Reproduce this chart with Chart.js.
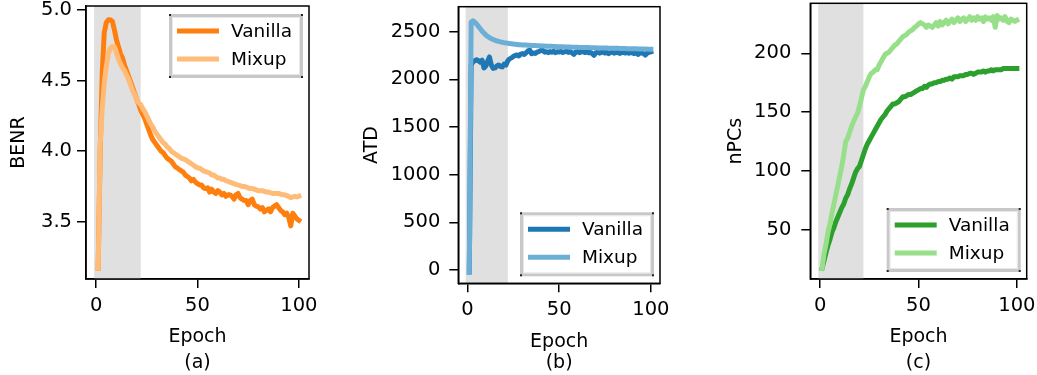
<!DOCTYPE html>
<html>
<head>
<meta charset="utf-8">
<script src="https://cdn.jsdelivr.net/npm/chart.js@4.4.1/dist/chart.umd.min.js"></script>
<style>
  html, body { margin: 0; padding: 0; background: #fff; }
  #wrap { position: relative; width: 1037px; height: 375px; }
  canvas { position: absolute; top: 0; }
</style>
</head>
<body>
<div id="wrap">
  <canvas id="benrChart" width="345" height="375" style="left:0px"></canvas>
  <canvas id="atdChart" width="345" height="375" style="left:345px"></canvas>
  <canvas id="npcsChart" width="347" height="375" style="left:690px"></canvas>
</div>
<script>
// Epochs on the x axis
const epochs = [1, 2, 3, 4, 5, 6, 7, 8, 9, 10, 11, 12, 13, 14, 15, 16, 17, 18, 19, 20,
  21, 22, 23, 24, 25, 26, 27, 28, 29, 30, 31, 32, 33, 34, 35, 36, 37, 38, 39, 40,
  41, 42, 43, 44, 45, 46, 47, 48, 49, 50, 51, 52, 53, 54, 55, 56, 57, 58, 59, 60,
  61, 62, 63, 64, 65, 66, 67, 68, 69, 70, 71, 72, 73, 74, 75, 76, 77, 78, 79, 80,
  81, 82, 83, 84, 85, 86, 87, 88, 89, 90, 91, 92, 93, 94, 95, 96, 97, 98, 99, 100];

const seriesNames = ['Vanilla', 'Mixup'];

// (a) BENR
const benrVanilla = [3.17, 4.00, 4.55, 4.84, 4.91, 4.93, 4.93, 4.92, 4.86, 4.79,
  4.74, 4.69, 4.66, 4.61, 4.57, 4.53, 4.49, 4.45, 4.41, 4.37,
  4.33, 4.29, 4.26, 4.23, 4.19, 4.15, 4.11, 4.08, 4.06, 4.04,
  4.02, 4.00, 3.99, 3.97, 3.95, 3.94, 3.93, 3.91, 3.89, 3.88,
  3.87, 3.86, 3.85, 3.83, 3.82, 3.81, 3.79, 3.80, 3.78, 3.77,
  3.76, 3.76, 3.74, 3.735, 3.74, 3.71, 3.73, 3.71, 3.70, 3.72,
  3.71, 3.69, 3.70, 3.68, 3.69, 3.69, 3.68, 3.66, 3.69, 3.70,
  3.67, 3.66, 3.65, 3.65, 3.62, 3.65, 3.66, 3.62, 3.61, 3.605,
  3.59, 3.60, 3.57, 3.58, 3.59, 3.57, 3.60, 3.61, 3.62, 3.60,
  3.58, 3.57, 3.55, 3.56, 3.53, 3.47, 3.56, 3.54, 3.52, 3.51];
const benrMixup = [3.17, 4.05, 4.30, 4.48, 4.60, 4.69, 4.73, 4.74, 4.74, 4.70,
  4.65, 4.62, 4.59, 4.57, 4.54, 4.51, 4.47, 4.43, 4.40, 4.37,
  4.34, 4.33, 4.30, 4.28, 4.25, 4.22, 4.19, 4.17, 4.14, 4.12,
  4.10, 4.08, 4.06, 4.05, 4.03, 4.02, 4.00, 3.99, 3.98, 3.97,
  3.96, 3.95, 3.945, 3.94, 3.93, 3.92, 3.91, 3.90, 3.89, 3.88,
  3.88, 3.87, 3.86, 3.855, 3.85, 3.845, 3.83, 3.83, 3.82, 3.81,
  3.81, 3.80, 3.80, 3.79, 3.785, 3.78, 3.775, 3.77, 3.765, 3.76,
  3.755, 3.75, 3.75, 3.745, 3.74, 3.735, 3.735, 3.73, 3.725, 3.72,
  3.72, 3.72, 3.715, 3.71, 3.71, 3.705, 3.70, 3.70, 3.70, 3.70,
  3.695, 3.69, 3.69, 3.685, 3.68, 3.67, 3.675, 3.68, 3.675, 3.68];

// (b) ATD
const atdVanilla = [-20, 2150, 2185, 2195, 2205, 2195, 2180, 2200, 2120, 2140,
  2190, 2235, 2150, 2115, 2120, 2140, 2150, 2135, 2130, 2160,
  2150, 2195, 2215, 2225, 2240, 2250, 2255, 2245, 2265, 2270,
  2262, 2278, 2298, 2306, 2268, 2276, 2272, 2285, 2292, 2302,
  2306, 2285, 2290, 2280, 2292, 2285, 2294, 2280, 2290, 2286,
  2293, 2282, 2288, 2295, 2283, 2290, 2278, 2262, 2285, 2290,
  2280, 2288, 2292, 2282, 2287, 2279, 2284, 2272, 2252, 2278,
  2285, 2275, 2282, 2288, 2276, 2283, 2270, 2281, 2287, 2274,
  2280, 2284, 2272, 2279, 2285, 2276, 2281, 2274, 2283, 2278,
  2270, 2279, 2262, 2276, 2281, 2270, 2255, 2275, 2282, 2288];
const atdMixup = [-20, 2600, 2615, 2600, 2578, 2555, 2530, 2505, 2485, 2465,
  2450, 2437, 2427, 2418, 2410, 2404, 2398, 2393, 2389, 2385,
  2382, 2378, 2375, 2373, 2370, 2368, 2366, 2364, 2363, 2361,
  2360, 2359, 2358, 2357, 2356, 2355, 2354, 2353, 2352, 2351,
  2350, 2349, 2348, 2347, 2346, 2346, 2345, 2344, 2343, 2342,
  2341, 2341, 2340, 2339, 2339, 2338, 2337, 2337, 2336, 2336,
  2335, 2335, 2334, 2334, 2333, 2333, 2332, 2332, 2331, 2331,
  2330, 2330, 2329, 2329, 2328, 2328, 2327, 2327, 2326, 2326,
  2325, 2325, 2324, 2324, 2323, 2323, 2322, 2322, 2321, 2321,
  2320, 2320, 2319, 2319, 2318, 2318, 2317, 2317, 2316, 2316];

// (c) nPCs
const npcsVanilla = [17.5, 24, 31, 37, 42, 48, 52, 57, 61, 65,
  69, 72, 77, 80, 85, 89, 94, 99, 102, 104,
  109, 114, 119, 123, 126, 129, 132, 135, 138, 141,
  144, 146, 148, 151, 153, 155, 157, 157, 158, 159,
  161, 163, 163, 164, 165, 165, 166, 167, 168, 169,
  170, 170, 172, 171, 173, 174, 174, 175, 175, 176,
  176, 177, 177, 178, 178, 179, 178, 180, 180, 180,
  181, 181, 181, 182, 182, 183, 183, 182, 183, 184,
  184, 184, 185, 184, 185, 185, 186, 185, 186, 186,
  186, 186, 187, 187, 187, 187, 187, 187, 187, 187];
const npcsMixup = [17.5, 30, 38, 48, 55, 64, 72, 80, 88, 96,
  104, 114, 125, 128, 133, 138, 142, 146, 149, 155,
  162, 169, 172, 176, 180, 183, 184, 186, 186, 190,
  193, 196, 199, 200, 201, 203, 205, 207, 208, 210,
  212, 214, 215, 216, 218, 219, 220, 222, 223, 225,
  226, 225, 224, 222, 224, 223, 222, 224, 226, 223,
  227, 224, 226, 228, 225, 227, 229, 226, 228, 230,
  227, 229, 230, 227, 229, 231, 228, 230, 228, 231,
  229, 230, 227, 231, 229, 230, 228, 231, 222, 232,
  229, 230, 228, 231, 227, 226, 229, 228, 227, 228];

// tick labels and shaded warm-up span
const epochTicks = [0, 50, 100];
const benrTicks = [3.5, 4.0, 4.5, 5.0];
const atdTicks = [0, 500, 1000, 1500, 2000, 2500];
const npcsTicks = [50, 100, 150, 200];
const warmupSpan = [-1, 22];

const FONT = 'DejaVu Sans';

// grey band behind the curves
const shadePlugin = {
  id: 'warmupShade',
  beforeDatasetsDraw(chart) {
    const { ctx, chartArea, scales: { x } } = chart;
    const x0 = Math.max(x.getPixelForValue(warmupSpan[0]), chartArea.left);
    const x1 = x.getPixelForValue(warmupSpan[1]);
    ctx.save();
    ctx.fillStyle = '#e0e0e0';
    ctx.fillRect(x0, chartArea.top, x1 - x0, chartArea.bottom - chartArea.top);
    ctx.restore();
  }
};

// full box around the axes
const framePlugin = {
  id: 'frame',
  afterDatasetsDraw(chart) {
    const { ctx, chartArea: a } = chart;
    ctx.save();
    ctx.strokeStyle = '#000';
    ctx.lineWidth = 1.5;
    ctx.strokeRect(a.left, a.top, a.right - a.left, a.bottom - a.top);
    ctx.restore();
  }
};

// matplotlib-like legend with shadowed frame, drawn inside the plot
const boxLegend = {
  id: 'boxLegend',
  afterDraw(chart, args, opts) {
    const { ctx, chartArea } = chart;
    const w = 134, h = 64;
    const left = chartArea.right - 6 - w;
    const top = opts.where === 'top' ? chartArea.top + 8 : chartArea.bottom - 7 - h;
    ctx.save();
    ctx.fillStyle = '#fff';
    ctx.fillRect(left, top, w, h);
    ctx.strokeStyle = '#c8c8c8';
    ctx.lineWidth = 3;
    ctx.strokeRect(left + 1.5, top + 1.5, w - 3, h - 3);
    ctx.strokeStyle = '#e8e8e8';
    ctx.lineWidth = 1;
    ctx.strokeRect(left + 3.5, top + 3.5, w - 7, h - 7);
    ctx.fillStyle = '#222';
    [[left, top], [left + w - 2, top], [left, top + h - 2], [left + w - 2, top + h - 2]]
      .forEach(([cx, cy]) => ctx.fillRect(cx, cy, 2, 2));
    chart.data.datasets.forEach((ds, i) => {
      const y = top + 17 + i * 28;
      ctx.strokeStyle = ds.borderColor;
      ctx.lineWidth = 5;
      ctx.lineCap = 'butt';
      ctx.beginPath();
      ctx.moveTo(left + 8, y);
      ctx.lineTo(left + 50, y);
      ctx.stroke();
      ctx.fillStyle = '#000';
      ctx.font = '18.5px "' + FONT + '"';
      ctx.textBaseline = 'middle';
      ctx.fillText(ds.label, left + 62, y + 1);
    });
    ctx.restore();
  }
};

function makeChart(canvasId, cfg) {
  const canvas = document.getElementById(canvasId);
  const toPoints = arr => epochs.map((e, i) => ({ x: e, y: arr[i] }));
  return new Chart(canvas.getContext('2d'), {
    type: 'line',
    data: {
      datasets: [
        { label: seriesNames[0], data: toPoints(cfg.vanilla), borderColor: cfg.colors[0], order: 1 },
        { label: seriesNames[1], data: toPoints(cfg.mixup), borderColor: cfg.colors[1], order: 0 },
      ]
    },
    options: {
      responsive: false,
      animation: false,
      layout: { padding: { left: 0, top: cfg.top, right: canvas.width - cfg.right, bottom: 0 } },
      elements: {
        line: { borderWidth: 5, borderCapStyle: 'square', borderJoinStyle: 'round', tension: 0, fill: false },
        point: { radius: 0 }
      },
      plugins: {
        legend: { display: false },
        tooltip: { enabled: false },
        boxLegend: { where: cfg.legendAt }
      },
      scales: {
        x: {
          type: 'linear', min: -5, max: 105,
          afterBuildTicks: s => { s.ticks = epochTicks.map(v => ({ value: v })); },
          afterFit: s => { s.height = canvas.height - cfg.bottom; s.paddingLeft = 0; s.paddingRight = 0; },
          grid: { drawOnChartArea: false, drawTicks: true, tickLength: 9, color: '#000', lineWidth: 1.5 },
          border: { display: true, color: '#000', width: 1.5 },
          ticks: { color: '#000', font: { family: FONT, size: 19.5 }, padding: cfg.xTickPad, maxRotation: 0 },
          title: {
            display: true, text: ['Epoch', cfg.caption], color: '#000',
            font: { family: FONT, size: 19, lineHeight: cfg.xTitleLH / 19 },
            padding: { top: 0, bottom: cfg.xTitlePad }
          }
        },
        y: {
          type: 'linear', min: cfg.yMin, max: cfg.yMax,
          afterBuildTicks: s => { s.ticks = cfg.yTicks.map(v => ({ value: v })); },
          afterFit: s => { s.width = cfg.left; s.paddingTop = 0; s.paddingBottom = 0; },
          grid: { drawOnChartArea: false, drawTicks: true, tickLength: 9, color: '#000', lineWidth: 1.5 },
          border: { display: true, color: '#000', width: 1.5 },
          ticks: { color: '#000', font: { family: FONT, size: 19.5 }, padding: cfg.yTickPad, callback: cfg.yFmt },
          title: {
            display: true, text: cfg.yTitle, color: '#000',
            font: { family: FONT, size: 19 },
            padding: { top: cfg.yTitlePad, bottom: 0 }
          }
        }
      }
    },
    plugins: [shadePlugin, framePlugin, boxLegend]
  });
}

makeChart('benrChart', {
  vanilla: benrVanilla, mixup: benrMixup, colors: ['#ff7f0e', '#ffbb78'],
  yTicks: benrTicks, yFmt: v => Number(v).toFixed(1), yMin: 3.094, yMax: 5.028,
  left: 86, right: 309, top: 6, bottom: 279,
  yTitle: 'BENR', yTitlePad: 8, yTickPad: 5,
  xTickPad: 6, xTitleLH: 26, xTitlePad: -1, caption: '(a)', legendAt: 'top'
});

makeChart('atdChart', {
  vanilla: atdVanilla, mixup: atdMixup, colors: ['#1f77b4', '#6baed6'],
  yTicks: atdTicks, yFmt: v => String(v), yMin: -139.5, yMax: 2762,
  left: 113.3, right: 315, top: 6.7, bottom: 283.3,
  yTitle: 'ATD', yTitlePad: 16, yTickPad: 9,
  xTickPad: 6, xTitleLH: 21, xTitlePad: 1, caption: '(b)', legendAt: 'bottom'
});

makeChart('npcsChart', {
  vanilla: npcsVanilla, mixup: npcsMixup, colors: ['#2ca02c', '#98df8a'],
  yTicks: npcsTicks, yFmt: v => String(v), yMin: 8.4, yMax: 242.4,
  left: 120.3, right: 336.7, top: 3.3, bottom: 279,
  yTitle: 'nPCs', yTitlePad: 34.5, yTickPad: 10,
  xTickPad: 6, xTitleLH: 26, xTitlePad: -1, caption: '(c)', legendAt: 'bottom'
});
</script>
</body>
</html>
